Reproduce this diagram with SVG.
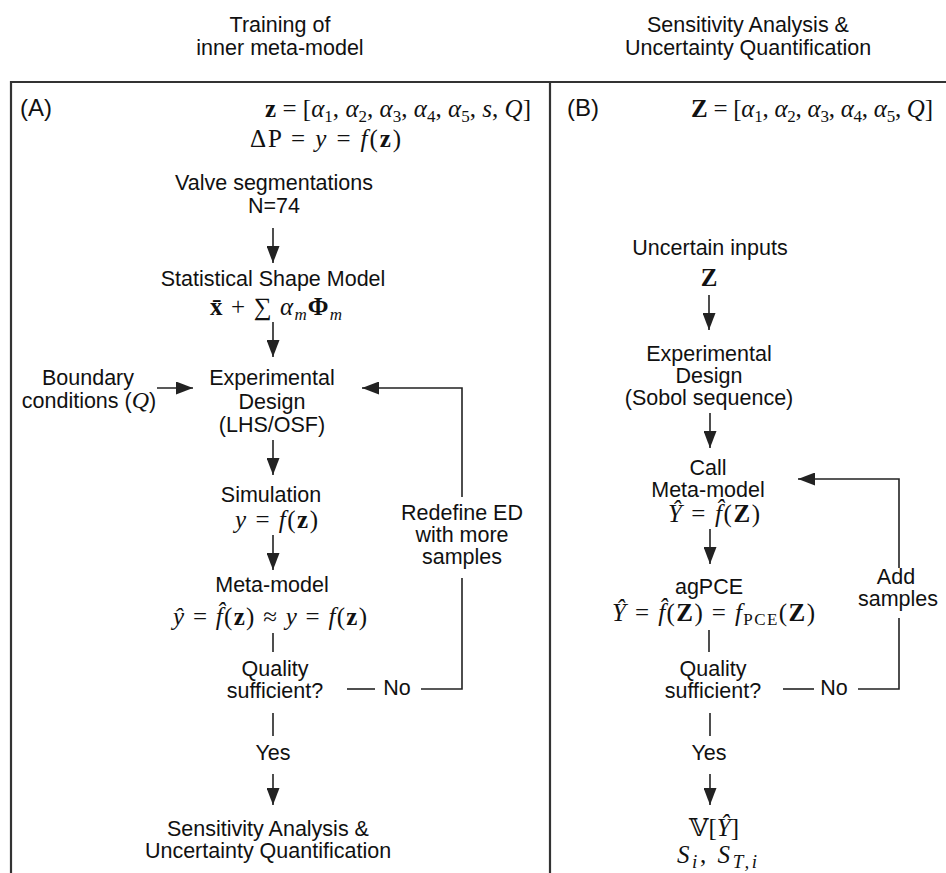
<svg xmlns="http://www.w3.org/2000/svg" width="946" height="873" viewBox="0 0 946 873">
<style>
  .t { font-family: "Liberation Sans", Arial, sans-serif; font-size: 21.5px; fill: #111; text-anchor: middle; }
  .h { font-family: "Liberation Sans", Arial, sans-serif; font-size: 21.5px; fill: #111; text-anchor: middle; }
  .lbl { font-family: "Liberation Sans", Arial, sans-serif; font-size: 24px; fill: #111; }
  .m { font-family: "Liberation Serif", "DejaVu Serif", serif; font-size: 25px; fill: #111; }
  .mc { text-anchor: middle; }
  .i { font-style: italic; }
  .b { font-weight: bold; }
  .s { font-size: 17px; }
  .border { stroke: #333; stroke-width: 2.2; fill: none; }
  .c { stroke: #222; stroke-width: 1.6; fill: none; }
</style>
<defs>
  <marker id="ah" viewBox="0 0 17 13" refX="17" refY="6.5" markerWidth="17" markerHeight="13" markerUnits="userSpaceOnUse" orient="auto">
    <path d="M0,0 L17,6.5 L0,13 z" fill="#222"/>
  </marker>
</defs>

<g id="frame">
  <line class="border" x1="11" y1="82" x2="946" y2="82"/>
  <line class="border" x1="11" y1="81" x2="11" y2="873"/>
  <line class="border" x1="550" y1="82" x2="550" y2="873"/>
</g>

<g id="titles">
  <text class="h" x="280" y="32">Training of</text>
  <text class="h" x="280" y="55">inner meta-model</text>
  <text class="h" x="748" y="32">Sensitivity Analysis &amp;</text>
  <text class="h" x="748" y="55">Uncertainty Quantification</text>
</g>

<g id="connectors">
  <line class="c" x1="273" y1="228" x2="273" y2="263" marker-end="url(#ah)"/>
  <line class="c" x1="273" y1="322" x2="273" y2="357" marker-end="url(#ah)"/>
  <line class="c" x1="157" y1="388" x2="193" y2="388" marker-end="url(#ah)"/>
  <line class="c" x1="273" y1="440" x2="273" y2="475" marker-end="url(#ah)"/>
  <line class="c" x1="273" y1="535" x2="273" y2="570" marker-end="url(#ah)"/>
  <line class="c" x1="273" y1="633" x2="273" y2="652"/>
  <line class="c" x1="273" y1="713" x2="273" y2="736"/>
  <line class="c" x1="273" y1="774" x2="273" y2="805" marker-end="url(#ah)"/>
  <line class="c" x1="347" y1="689" x2="375" y2="689"/>
  <path class="c" d="M421,689 H462 V578"/>
  <path class="c" d="M462,497 V388 H362" marker-end="url(#ah)"/>

  <line class="c" x1="709" y1="295" x2="709" y2="330" marker-end="url(#ah)"/>
  <line class="c" x1="710" y1="413" x2="710" y2="448" marker-end="url(#ah)"/>
  <line class="c" x1="710" y1="529" x2="710" y2="564" marker-end="url(#ah)"/>
  <line class="c" x1="709" y1="630" x2="709" y2="652"/>
  <line class="c" x1="710" y1="713" x2="710" y2="736"/>
  <line class="c" x1="710" y1="774" x2="710" y2="805" marker-end="url(#ah)"/>
  <line class="c" x1="783" y1="689" x2="814" y2="689"/>
  <path class="c" d="M858,689 H899 V618"/>
  <path class="c" d="M899,568 V479 H798" marker-end="url(#ah)"/>
</g>

<g id="panelA">
  <text class="lbl" x="20" y="116">(A)</text>
  <g id="A-zdef">
    <text class="m" x="265" y="117" textLength="266"><tspan class="b">z</tspan> = [<tspan class="i">α</tspan><tspan class="s" dy="5">1</tspan><tspan dy="-5">, </tspan><tspan class="i">α</tspan><tspan class="s" dy="5">2</tspan><tspan dy="-5">, </tspan><tspan class="i">α</tspan><tspan class="s" dy="5">3</tspan><tspan dy="-5">, </tspan><tspan class="i">α</tspan><tspan class="s" dy="5">4</tspan><tspan dy="-5">, </tspan><tspan class="i">α</tspan><tspan class="s" dy="5">5</tspan><tspan dy="-5">, </tspan><tspan class="i">s</tspan>, <tspan class="i">Q</tspan>]</text>
    <text class="m" x="250" y="147" textLength="151">ΔP = <tspan class="i">y</tspan> = <tspan class="i">f</tspan>(<tspan class="b">z</tspan>)</text>
  </g>
  <g id="A-valve">
    <text class="t" x="274" y="190">Valve segmentations</text>
    <text class="t" x="274" y="213">N=74</text>
  </g>
  <g id="A-ssm">
    <text class="t" x="273" y="286">Statistical Shape Model</text>
    <text class="m" x="210" y="315" textLength="132"><tspan class="b">x̄</tspan> + ∑ <tspan class="i">α</tspan><tspan class="s i" dy="5">m</tspan><tspan class="b" dy="-5">Φ</tspan><tspan class="s i" dy="5">m</tspan></text>
  </g>
  <g id="A-boundary">
    <text class="t" x="88" y="385">Boundary</text>
    <text class="t" x="89" y="408">conditions (<tspan font-family="Liberation Serif, serif" font-style="italic" font-size="24">Q</tspan>)</text>
  </g>
  <g id="A-ed">
    <text class="t" x="272" y="385">Experimental</text>
    <text class="t" x="272" y="409">Design</text>
    <text class="t" x="272" y="432">(LHS/OSF)</text>
  </g>
  <g id="A-redefine">
    <text class="t" x="462" y="520">Redefine ED</text>
    <text class="t" x="462" y="542">with more</text>
    <text class="t" x="462" y="564">samples</text>
  </g>
  <g id="A-sim">
    <text class="t" x="271" y="502">Simulation</text>
    <text class="m" x="235" y="528" textLength="83"><tspan class="i">y</tspan> = <tspan class="i">f</tspan>(<tspan class="b">z</tspan>)</text>
  </g>
  <g id="A-meta">
    <text class="t" x="272" y="592">Meta-model</text>
    <text class="m" x="173" y="625" textLength="194"><tspan class="i">ŷ</tspan> = <tspan class="i">f̂</tspan>(<tspan class="b">z</tspan>) ≈ <tspan class="i">y</tspan> = <tspan class="i">f</tspan>(<tspan class="b">z</tspan>)</text>
  </g>
  <g id="A-quality">
    <text class="t" x="275" y="676">Quality</text>
    <text class="t" x="275" y="698">sufficient?</text>
    <text class="t" x="397" y="695">No</text>
    <text class="t" x="273" y="760">Yes</text>
  </g>
  <g id="A-sa">
    <text class="t" x="268" y="836">Sensitivity Analysis &amp;</text>
    <text class="t" x="268" y="858">Uncertainty Quantification</text>
  </g>
</g>

<g id="panelB">
  <text class="lbl" x="567" y="116">(B)</text>
  <g id="B-zdef">
    <text class="m" x="691" y="117" textLength="242"><tspan class="b">Z</tspan> = [<tspan class="i">α</tspan><tspan class="s" dy="5">1</tspan><tspan dy="-5">, </tspan><tspan class="i">α</tspan><tspan class="s" dy="5">2</tspan><tspan dy="-5">, </tspan><tspan class="i">α</tspan><tspan class="s" dy="5">3</tspan><tspan dy="-5">, </tspan><tspan class="i">α</tspan><tspan class="s" dy="5">4</tspan><tspan dy="-5">, </tspan><tspan class="i">α</tspan><tspan class="s" dy="5">5</tspan><tspan dy="-5">, </tspan><tspan class="i">Q</tspan>]</text>
  </g>
  <g id="B-inputs">
    <text class="t" x="710" y="255">Uncertain inputs</text>
    <text class="m mc b" x="709" y="286">Z</text>
  </g>
  <g id="B-ed">
    <text class="t" x="709" y="361">Experimental</text>
    <text class="t" x="709" y="383">Design</text>
    <text class="t" x="709" y="405">(Sobol sequence)</text>
  </g>
  <g id="B-call">
    <text class="t" x="708" y="475">Call</text>
    <text class="t" x="708" y="497">Meta-model</text>
    <text class="m" x="668" y="522" textLength="92"><tspan class="i">Ŷ</tspan> = <tspan class="i">f̂</tspan>(<tspan class="b">Z</tspan>)</text>
  </g>
  <g id="B-pce">
    <text class="t" x="709" y="594">agPCE</text>
    <text class="m" x="612" y="621" textLength="203"><tspan class="i">Ŷ</tspan> = <tspan class="i">f̂</tspan>(<tspan class="b">Z</tspan>) = <tspan class="i">f</tspan><tspan class="s" dy="4">PCE</tspan><tspan dy="-4">(</tspan><tspan class="b">Z</tspan>)</text>
  </g>
  <g id="B-add">
    <text class="t" x="896" y="584">Add</text>
    <text class="t" x="898" y="606">samples</text>
  </g>
  <g id="B-quality">
    <text class="t" x="713" y="676">Quality</text>
    <text class="t" x="713" y="698">sufficient?</text>
    <text class="t" x="834" y="695">No</text>
    <text class="t" x="709" y="760">Yes</text>
  </g>
  <g id="B-result">
    <text class="m mc" x="714" y="836"><tspan font-family="DejaVu Serif, DejaVu Sans, serif">𝕍</tspan>[<tspan class="i">Ŷ</tspan>]</text>
    <text class="m" x="677" y="863" font-size="30" textLength="80"><tspan class="i">S</tspan><tspan class="i" font-size="19" dy="5">i</tspan><tspan dy="-5">, </tspan><tspan class="i">S</tspan><tspan class="i" font-size="19" dy="5">T,i</tspan></text>
  </g>
</g>
</svg>
